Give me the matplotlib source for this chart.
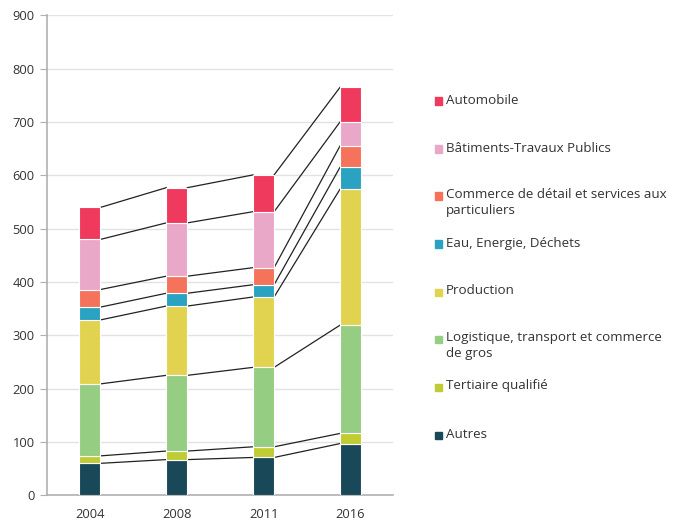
import numpy as np
import matplotlib.pyplot as plt
from matplotlib.patches import Rectangle

plt.rcParams['font.family'] = ['Open Sans', 'DejaVu Sans']

years = ["2004", "2008", "2011", "2016"]

# sectors, bottom of the stack first
sectors = [
    "Autres",
    "Tertiaire qualifié",
    "Logistique, transport et commerce\nde gros",
    "Production",
    "Eau, Energie, Déchets",
    "Commerce de détail et services aux\nparticuliers",
    "Bâtiments-Travaux Publics",
    "Automobile",
]
colors = ["#194858", "#c0cc34", "#95cd82", "#e1d34f",
          "#2aa2c1", "#f4735a", "#eaa8c9", "#ef3a5e"]

autres = [60, 67, 71, 97]
tertiaire = [14, 16, 20, 19]
logistique = [135, 142, 149, 203]
production = [120, 130, 132, 255]
eau = [24, 24, 23, 41]
commerce = [33, 32, 32, 40]
btp = [94, 100, 105, 45]
automobile = [60, 66, 69, 65]

values = np.array([autres, tertiaire, logistique, production,
                   eau, commerce, btp, automobile], dtype=float)

fig = plt.figure(figsize=(6.82, 5.21), dpi=100)
ax = fig.add_axes([0.0689, 0.0493, 0.5073, 0.921])

x = np.arange(len(years))
width = 0.242
bottom = np.zeros(len(years))
tops = []
for vals, col in zip(values, colors):
    ax.bar(x, vals, width, bottom=bottom, color=col,
           edgecolor="white", linewidth=0.8, zorder=3)
    bottom = bottom + vals
    tops.append(bottom.copy())

# join each segment top to the same segment on the next bar
for top in tops:
    for i in range(len(years) - 1):
        ax.plot([x[i] + width / 2, x[i + 1] - width / 2],
                [top[i], top[i + 1]], color="#222222", lw=0.9, zorder=2)

ax.set_xlim(-0.495, 3.49)
ax.set_ylim(0, 900)
ax.set_yticks(range(0, 901, 100))
ax.set_xticks(x)
ax.set_xticklabels(years)
ax.grid(axis="y", color="#e2e2e2", lw=1, zorder=0)
ax.set_axisbelow(True)
for s in ["top", "right"]:
    ax.spines[s].set_visible(False)
for s in ["left", "bottom"]:
    ax.spines[s].set_color("#b0b0b0")
    ax.spines[s].set_linewidth(1.2)
ax.tick_params(axis="y", length=5, color="#b0b0b0", labelsize=9.3,
               labelcolor="#333333", pad=4)
ax.tick_params(axis="x", length=0, labelsize=9.3, labelcolor="#333333", pad=9)

# legend, top entry first
legend_y = [101, 149, 196, 244, 292, 339, 387, 435]
W, H = 682, 521
for name, col, py in zip(sectors[::-1], colors[::-1], legend_y):
    fig.patches.append(Rectangle((435 / W, (H - py - 3.5) / H), 7 / W, 7 / H,
                                 transform=fig.transFigure, color=col))
    fig.text(446 / W, (H - py + 7.5) / H, name, fontsize=9.6, color="#333333",
             va="top", ha="left", linespacing=1.22)

fig.savefig("out.png", dpi=100)
